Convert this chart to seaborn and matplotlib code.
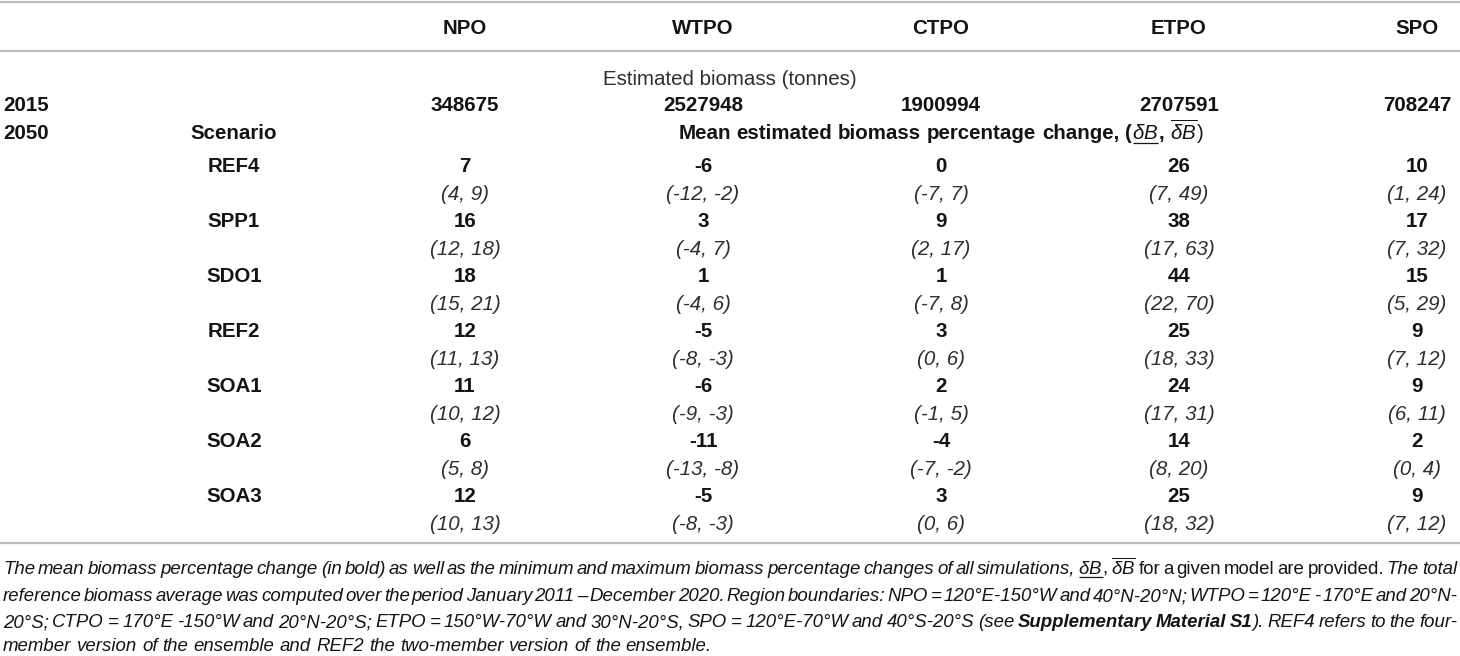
import matplotlib
matplotlib.use("Agg")
import matplotlib.pyplot as plt
import seaborn as sns

# ---- table content ----
regions = ["NPO", "WTPO", "CTPO", "ETPO", "SPO"]
biomass_2015 = [348675, 2527948, 1900994, 2707591, 708247]
scenarios = ["REF4", "SPP1", "SDO1", "REF2", "SOA1", "SOA2", "SOA3"]

# mean % change per scenario (rows) and region (columns)
mean_change = [
    [7, -6, 0, 26, 10],
    [16, 3, 9, 38, 17],
    [18, 1, 1, 44, 15],
    [12, -5, 3, 25, 9],
    [11, -6, 2, 24, 9],
    [6, -11, -4, 14, 2],
    [12, -5, 3, 25, 9],
]
low_change = [
    [4, -12, -7, 7, 1],
    [12, -4, 2, 17, 7],
    [15, -4, -7, 22, 5],
    [11, -8, 0, 18, 7],
    [10, -9, -1, 17, 6],
    [5, -13, -7, 8, 0],
    [10, -8, 0, 18, 7],
]
high_change = [
    [9, -2, 7, 49, 24],
    [18, 7, 17, 63, 32],
    [21, 6, 8, 70, 29],
    [13, -3, 6, 33, 12],
    [12, -3, 5, 31, 11],
    [8, -8, -2, 20, 4],
    [13, -3, 6, 32, 12],
]

sns.set_theme(style="white")
plt.rcParams["font.family"] = ["Liberation Sans", "DejaVu Sans"]
plt.rcParams["mathtext.fontset"] = "custom"
plt.rcParams["mathtext.rm"] = "Liberation Sans"
plt.rcParams["mathtext.it"] = "Liberation Sans:italic"
plt.rcParams["mathtext.bf"] = "Liberation Sans:bold"

W, H = 1460, 656
fig = plt.figure(figsize=(W / 100, H / 100), dpi=100)
ax = fig.add_axes([0, 0, 1, 1])
ax.set_xlim(0, W)
ax.set_ylim(H, 0)
ax.axis("off")
renderer = fig.canvas.get_renderer()

TS = 14.8  # table font size
CS = 13.4  # caption font size
INK = "#141414"
LIGHT = "#2e2e2e"
RULE = "#bdbdbd"
col_x = [465 + 238 * i for i in range(len(regions))]
label_x = 234


def px(size):
    return size * 100 / 72


def base(yc, size=TS):
    # baseline from the visual centre of a line
    return yc + 0.36 * px(size)


def cell(x, yc, s, size=TS, ha="center", color=INK, **kw):
    ax.text(x, base(yc, size), s, ha=ha, va="baseline", fontsize=size, color=color, **kw)


# ---- mixed style runs (for the header formula and the caption) ----
STYLES = {
    "rg": dict(),
    "it": dict(style="italic"),
    "bd": dict(weight="bold"),
    "bi": dict(style="italic", weight="bold"),
    "ul": dict(),
    "ol": dict(),
}
MATH = {"ul": r"$\delta B$", "ol": r"$\overline{\delta B}$"}


def make_part(text, key, size, color):
    s = MATH.get(key, text)
    t = ax.text(0, 0, s, fontsize=size, color=color, va="baseline", ha="left", **STYLES[key])
    w = t.get_window_extent(renderer).width
    return t, w, key


def to_words(segments, size, color):
    words = [[]]
    for text, key in segments:
        if key in MATH:
            words[-1].append(make_part(text, key, size, color))
            continue
        for i, piece in enumerate(text.split(" ")):
            if i > 0:
                words.append([])
            if piece:
                words[-1].append(make_part(piece, key, size, color))
    return [w for w in words if w]


def put_parts(parts, x, yb, size):
    for t, w, key in parts:
        t.set_position((x, yb))
        if key == "ul":
            yu = yb + 0.16 * px(size)
            ax.plot([x + 1, x + w], [yu, yu], color=t.get_color(), lw=0.9,
                    solid_capstyle="butt")
        x += w


def layout_line(segments, yb, size, color, x0=0, x1=None, center=None):
    words = to_words(segments, size, color)
    widths = [sum(p[1] for p in w) for w in words]
    if x1 is not None:
        gap = (x1 - x0 - sum(widths)) / (len(words) - 1)
    else:
        gap = 0.278 * px(size)
    total = sum(widths) + gap * (len(words) - 1)
    if center is not None:
        x0 = center - total / 2
    x = x0
    for w, wd in zip(words, widths):
        put_parts(w, x, yb, size)
        x += wd + gap


# ---- rules ----
for y in (1.5, 51, 543):
    ax.axhline(y, color=RULE, lw=1.6)

# ---- header ----
for x, r in zip(col_x, regions):
    cell(x, 27, r, weight="bold")

cell(W / 2, 78, "Estimated biomass (tonnes)", color=LIGHT)

cell(3, 104, "2015", ha="left", weight="bold")
for x, v in zip(col_x, biomass_2015):
    cell(x, 104, str(v), weight="bold")

cell(3, 132, "2050", ha="left", weight="bold")
cell(label_x, 132, "Scenario", weight="bold")
layout_line(
    [("Mean estimated biomass percentage change, (", "bd"), ("dB", "ul"),
     (", ", "bd"), ("dB", "ol"), (")", "rg")],
    base(132), TS, INK, center=(col_x[0] + col_x[-1]) / 2,
)

# ---- scenario rows ----
row0, step = 165, 55
for i, sc in enumerate(scenarios):
    y = row0 + i * step
    cell(label_x, y, sc, weight="bold")
    for j, x in enumerate(col_x):
        cell(x, y, str(mean_change[i][j]), weight="bold")
        cell(x, y + step / 2, f"({low_change[i][j]}, {high_change[i][j]})",
             style="italic", color=LIGHT)

# ---- caption ----
caption_lines = [
    [("The mean biomass percentage change (in bold) as well as the minimum and maximum "
      "biomass percentage changes of all simulations, ", "it"), ("dB", "ul"), (", ", "rg"),
     ("dB", "ol"), (" for a given model are provided.", "rg"), (" The total", "it")],
    [("reference biomass average was computed over the period January 2011 \u2013 December 2020. "
      "Region boundaries: NPO = 120°E-150°W and 40°N-20°N; WTPO = 120°E - 170°E and 20°N-", "it")],
    [("20°S; CTPO = 170°E -150°W and 20°N-20°S; ETPO = 150°W-70°W and 30°N-20°S, "
      "SPO = 120°E-70°W and 40°S-20°S (see ", "it"), ("Supplementary Material S1", "bi"),
     ("). REF4 refers to the four-", "it")],
    [("member version of the ensemble and REF2 the two-member version of the ensemble.", "it")],
]
cap_base = [574, 601, 627, 651]

# shrink the caption only as far as needed for the justified lines to fit
size = CS
while size > 9:
    fits = True
    for segs in caption_lines[:3]:
        words = to_words(segs, size, INK)
        natural = sum(p[1] for w in words for p in w)
        for w in words:
            for p in w:
                p[0].remove()
        if (1457 - 3 - natural) / (len(words) - 1) < 1.0:
            fits = False
    if fits:
        break
    size -= 0.1

for k, (segs, yb) in enumerate(zip(caption_lines, cap_base)):
    if k < 3:
        layout_line(segs, yb, size, INK, x0=3, x1=1457)
    else:
        layout_line(segs, yb, size, INK, x0=3)

fig.savefig("out.png", dpi=100)
